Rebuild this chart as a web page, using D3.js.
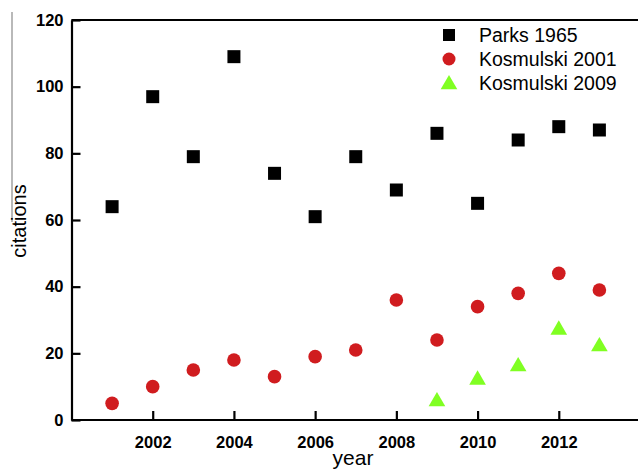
<!DOCTYPE html>
<html><head><meta charset="utf-8">
<script src="https://cdn.jsdelivr.net/npm/d3@7"></script>
<style>body{margin:0;background:#fff}svg{display:block}</style>
</head><body>
<svg id="c" width="638" height="472"></svg>
<script>
const years = [2001,2002,2003,2004,2005,2006,2007,2008,2009,2010,2011,2012,2013];
const parks1965 = [64,97,79,109,74,61,79,69,86,65,84,88,87];
const kosmulski2001 = [5,10,15,18,13,19,21,36,24,34,38,44,39];
const years2009 = [2009,2010,2011,2012,2013];
const kosmulski2009 = [6,12.5,16.5,27.5,22.5];
const xTicks = [2002,2004,2006,2008,2010,2012];
const yTicks = [0,20,40,60,80,100,120];
const seriesNames = ["Parks 1965","Kosmulski 2001","Kosmulski 2009"];

const svg = d3.select("#c");
const x = d3.scaleLinear().domain([2000,2014]).range([71.5,640]);
const y = d3.scaleLinear().domain([0,120]).range([420,20]);
const font = "'Liberation Sans', Arial, sans-serif";

// stray gray line at left
svg.append("line").attr("x1",12).attr("x2",12).attr("y1",12).attr("y2",222)
  .attr("stroke","#8a8a8a").attr("stroke-width",1.2);

// top frame line
svg.append("line").attr("x1",x(2000)).attr("x2",638).attr("y1",y(120)).attr("y2",y(120))
  .attr("stroke","#000").attr("stroke-width",2.2);

// axes
const xAxis = d3.axisBottom(x).tickValues(xTicks).tickFormat(d3.format("d")).tickSizeInner(-9).tickSizeOuter(0).tickPadding(16);
const gx = svg.append("g").attr("transform",`translate(0,${y(0)})`).call(xAxis);
gx.select(".domain").attr("d",`M${x(2000)},0H638`).attr("stroke-width",2.2);
gx.selectAll(".tick line").attr("stroke-width",2.2);
gx.selectAll("text").attr("font-family",font).attr("font-size",16.5).attr("font-weight","bold").attr("fill","#000");

const yAxis = d3.axisLeft(y).tickValues(yTicks).tickSizeInner(-9).tickSizeOuter(0).tickPadding(8);
const gy = svg.append("g").attr("transform",`translate(${x(2000)},0)`).call(yAxis);
gy.select(".domain").attr("stroke-width",2.2);
gy.selectAll(".tick line").attr("stroke-width",2.2);
gy.selectAll("text").attr("font-family",font).attr("font-size",16.5).attr("font-weight","bold").attr("fill","#000");

// axis titles
svg.append("text").attr("x",353).attr("y",465).attr("text-anchor","middle")
  .attr("font-family",font).attr("font-size",21).text("year");
svg.append("text").attr("transform","translate(26,221) rotate(-90)").attr("text-anchor","middle")
  .attr("font-family",font).attr("font-size",20).text("citations");

const red = "#d01c1f", green = "#80ff22";
const sq = d3.symbol().type(d3.symbolSquare).size(13*13);
const tri = d3.symbol().type(d3.symbolTriangle).size(120);

// Parks 1965
svg.append("g").selectAll("path").data(years.map((d,i)=>[d,parks1965[i]])).join("path")
  .attr("d",sq).attr("transform",d=>`translate(${x(d[0])},${y(d[1])})`).attr("fill","#000");
// Kosmulski 2001
svg.append("g").selectAll("circle").data(years.map((d,i)=>[d,kosmulski2001[i]])).join("circle")
  .attr("cx",d=>x(d[0])).attr("cy",d=>y(d[1])).attr("r",6.8).attr("fill",red);
// Kosmulski 2009
svg.append("g").selectAll("path").data(years2009.map((d,i)=>[d,kosmulski2009[i]])).join("path")
  .attr("d",tri).attr("transform",d=>`translate(${x(d[0])},${y(d[1])+1.5})`).attr("fill",green);

// legend
const leg = svg.append("g");
const ly = [35,59,83];
leg.append("path").attr("d",d3.symbol().type(d3.symbolSquare).size(12*12)).attr("transform",`translate(449,${ly[0]})`).attr("fill","#000");
leg.append("circle").attr("cx",449).attr("cy",ly[1]).attr("r",6.5).attr("fill",red);
leg.append("path").attr("d",tri).attr("transform",`translate(449,${ly[2]+1.5})`).attr("fill",green);
leg.selectAll("text").data(seriesNames).join("text")
  .attr("x",479).attr("y",(d,i)=>ly[i]+7).attr("font-family",font).attr("font-size",19.5).attr("fill","#000").text(d=>d);
</script>
</body></html>
